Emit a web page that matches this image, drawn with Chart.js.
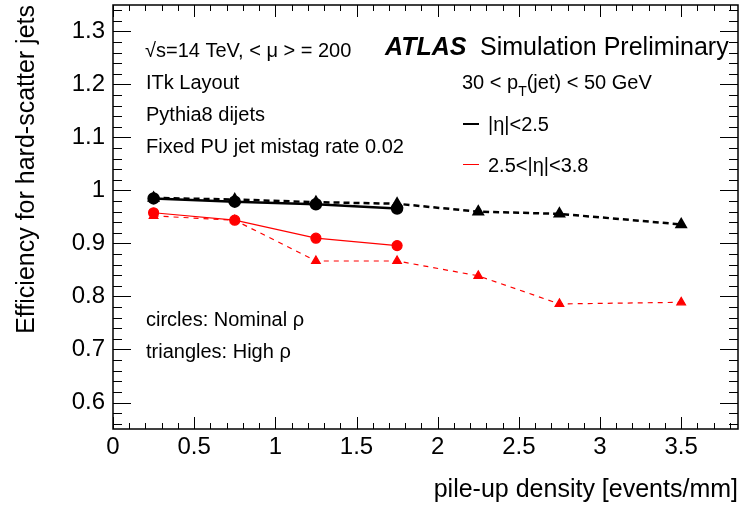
<!DOCTYPE html>
<html>
<head>
<meta charset="utf-8">
<script src="https://cdn.jsdelivr.net/npm/chart.js@4.4.1/dist/chart.umd.min.js"></script>
<style>
  html, body { margin: 0; padding: 0; background: #fff; }
  canvas { display: block; }
</style>
</head>
<body>
<canvas id="eff-chart" width="740" height="509"></canvas>
<script>
// pile-up density bins (events/mm)
const densityNominal = [0.25, 0.75, 1.25, 1.75];
const densityHigh = [0.25, 0.75, 1.25, 1.75, 2.25, 2.75, 3.5];

// |eta| < 2.5
const effCentralNominal = [0.985, 0.979, 0.974, 0.966];
const effCentralHigh = [0.986, 0.983, 0.978, 0.975, 0.960, 0.956, 0.936];
// 2.5 < |eta| < 3.8
const effForwardNominal = [0.958, 0.944, 0.910, 0.896];
const effForwardHigh = [0.952, 0.944, 0.867, 0.867, 0.839, 0.786, 0.789];

const xTickLabels = [0, 0.5, 1, 1.5, 2, 2.5, 3, 3.5];
const yTickLabels = [0.6, 0.7, 0.8, 0.9, 1, 1.1, 1.2, 1.3];

const FONT = '"Liberation Sans", Arial, Helvetica, sans-serif';

function toPoints(xs, ys) {
    return xs.map((x, i) => ({x: x, y: ys[i]}));
}

// ROOT style frame with inward ticks on all four sides
const framePlugin = {
    id: 'frame',
    afterDatasetsDraw(chart) {
        const {ctx, chartArea: a, scales: {x, y}} = chart;
        ctx.save();
        ctx.strokeStyle = '#000';
        ctx.lineWidth = 1;
        ctx.beginPath();
        for (let v = 0; v <= 3.85 + 1e-9; v += 0.1) {
            const px = Math.round(x.getPixelForValue(v)) + 0.5;
            const major = Math.abs(v / 0.5 - Math.round(v / 0.5)) < 1e-6;
            const len = major ? 12 : 6;
            ctx.moveTo(px, a.bottom); ctx.lineTo(px, a.bottom - len);
            ctx.moveTo(px, a.top); ctx.lineTo(px, a.top + len);
        }
        for (let v = 0.56; v <= 1.35 + 1e-9; v += 0.02) {
            const py = Math.round(y.getPixelForValue(v)) + 0.5;
            const major = Math.abs(v * 10 - Math.round(v * 10)) < 1e-6;
            const len = major ? 18 : 9;
            ctx.moveTo(a.left, py); ctx.lineTo(a.left + len, py);
            ctx.moveTo(a.right, py); ctx.lineTo(a.right - len, py);
        }
        ctx.stroke();
        ctx.lineWidth = 1.5;
        ctx.strokeRect(a.left, a.top, a.right - a.left, a.bottom - a.top);
        ctx.restore();
    },
    afterDraw(chart) {
        const ctx = chart.ctx;
        ctx.save();
        ctx.fillStyle = '#000';
        ctx.textBaseline = 'middle';
        ctx.textAlign = 'left';

        ctx.font = '20px ' + FONT;
        ctx.fillText('\u221As=14 TeV, < \u03BC > = 200', 145, 51);
        ctx.fillText('ITk Layout', 146, 83);
        ctx.fillText('Pythia8 dijets', 146, 115);
        ctx.fillText('Fixed PU jet mistag rate 0.02', 146, 147);
        ctx.fillText('circles: Nominal \u03C1', 146, 320);
        ctx.fillText('triangles: High \u03C1', 146, 352);

        ctx.font = 'italic bold 25px ' + FONT;
        ctx.fillText('ATLAS', 385, 48);
        ctx.font = '25px ' + FONT;
        ctx.fillText('Simulation Preliminary', 480, 48);

        // 30 < pT(jet) < 50 GeV
        ctx.font = '20px ' + FONT;
        let tx = 462;
        ctx.fillText('30 < p', tx, 83);
        tx += ctx.measureText('30 < p').width;
        ctx.font = '14px ' + FONT;
        ctx.fillText('T', tx, 92);
        tx += ctx.measureText('T').width;
        ctx.font = '20px ' + FONT;
        ctx.fillText('(jet) < 50 GeV', tx, 83);

        // legend
        ctx.fillText('|\u03B7|<2.5', 488, 125);
        ctx.fillText('2.5<|\u03B7|<3.8', 488, 166);
        ctx.lineWidth = 2;
        ctx.strokeStyle = '#000';
        ctx.beginPath(); ctx.moveTo(463, 124); ctx.lineTo(479, 124); ctx.stroke();
        ctx.lineWidth = 1;
        ctx.strokeStyle = '#ff0000';
        ctx.beginPath(); ctx.moveTo(463, 164.5); ctx.lineTo(479, 164.5); ctx.stroke();
        ctx.restore();
    }
};

function noScalePadding(scale) {
    scale.paddingTop = 0;
    scale.paddingBottom = 0;
    scale.paddingLeft = 0;
    scale.paddingRight = 0;
}

new Chart(document.querySelector('#eff-chart').getContext('2d'), {
    type: 'scatter',
    data: {
        datasets: [
            {
                label: '|eta|<2.5 nominal',
                data: toPoints(densityNominal, effCentralNominal),
                showLine: true,
                borderColor: '#000',
                backgroundColor: '#000',
                borderWidth: 2.5,
                pointStyle: 'circle',
                pointRadius: 5,
                order: 1
            },
            {
                label: '2.5<|eta|<3.8 nominal',
                data: toPoints(densityNominal, effForwardNominal),
                showLine: true,
                borderColor: '#ff0000',
                backgroundColor: '#ff0000',
                borderWidth: 1.2,
                pointStyle: 'circle',
                pointRadius: 5,
                order: 2
            },
            {
                label: '|eta|<2.5 high',
                data: toPoints(densityHigh, effCentralHigh),
                showLine: true,
                borderColor: '#000',
                backgroundColor: '#000',
                borderWidth: 2.5,
                borderDash: [6, 4],
                pointStyle: 'triangle',
                pointRadius: 5,
                order: 3
            },
            {
                label: '2.5<|eta|<3.8 high',
                data: toPoints(densityHigh, effForwardHigh),
                showLine: true,
                borderColor: '#ff0000',
                backgroundColor: '#ff0000',
                borderWidth: 1.2,
                borderDash: [5, 5],
                pointStyle: 'triangle',
                pointRadius: 5,
                order: 4
            }
        ]
    },
    options: {
        responsive: false,
        animation: false,
        layout: {autoPadding: false, padding: {top: 5, right: 2, left: 0, bottom: 0}},
        elements: {point: {borderWidth: 0}, line: {tension: 0}},
        plugins: {
            legend: {display: false},
            tooltip: {enabled: false}
        },
        scales: {
            x: {
                type: 'linear',
                min: 0,
                max: 3.85,
                grid: {display: false, drawTicks: false},
                border: {display: false},
                afterBuildTicks: scale => {
                    scale.ticks = xTickLabels.map(v => ({value: v}));
                },
                afterFit: scale => { scale.height = 80; noScalePadding(scale); },
                ticks: {
                    color: '#000',
                    padding: 4,
                    font: {family: FONT, size: 24},
                    callback: v => String(v)
                },
                title: {
                    display: true,
                    text: 'pile-up density [events/mm]',
                    align: 'end',
                    color: '#000',
                    font: {family: FONT, size: 25},
                    padding: {top: 13}
                }
            },
            y: {
                type: 'linear',
                min: 0.55,
                max: 1.35,
                grid: {display: false, drawTicks: false},
                border: {display: false},
                afterBuildTicks: scale => {
                    scale.ticks = yTickLabels.map(v => ({value: v}));
                },
                afterFit: scale => { scale.width = 113; noScalePadding(scale); },
                ticks: {
                    color: '#000',
                    padding: 8,
                    font: {family: FONT, size: 24},
                    callback: v => String(v)
                },
                title: {
                    display: true,
                    text: 'Efficiency for hard-scatter jets',
                    align: 'end',
                    color: '#000',
                    font: {family: FONT, size: 25},
                    padding: {top: 12, bottom: 0}
                }
            }
        }
    },
    plugins: [framePlugin]
});
</script>
</body>
</html>
